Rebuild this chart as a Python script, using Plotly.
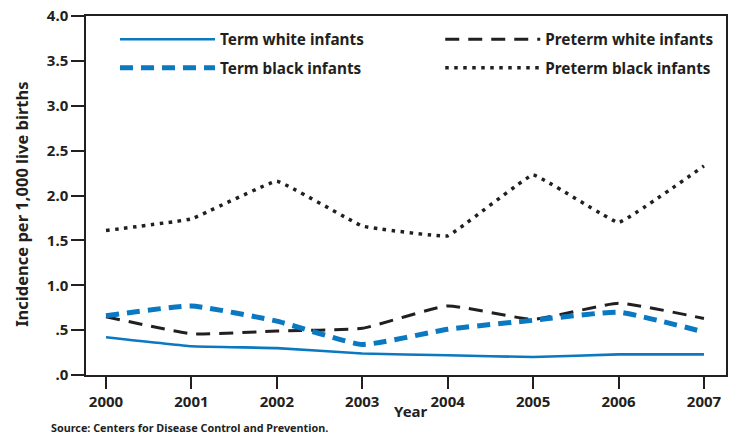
import plotly.graph_objects as go

years = [2000, 2001, 2002, 2003, 2004, 2005, 2006, 2007]
term_white = [0.42, 0.32, 0.30, 0.24, 0.22, 0.20, 0.23, 0.23]
preterm_white = [0.65, 0.46, 0.49, 0.52, 0.77, 0.62, 0.80, 0.63]
term_black = [0.66, 0.77, 0.60, 0.34, 0.51, 0.61, 0.70, 0.48]
preterm_black = [1.61, 1.74, 2.16, 1.66, 1.55, 2.23, 1.70, 2.33]

y_tickvals = [0, 0.5, 1.0, 1.5, 2.0, 2.5, 3.0, 3.5, 4.0]
y_ticktext = [".0", ".5", "1.0", "1.5", "2.0", "2.5", "3.0", "3.5", "4.0"]
x_ticktext = [str(y) for y in years]

BLUE = "#0b78c2"
DARK = "#231f20"
FONT = "Noto Sans"

fig = go.Figure()
fig.add_trace(go.Scatter(x=years, y=term_white, name="Term white infants", mode="lines", legend="legend",
                         line=dict(color=BLUE, width=2.6, shape="spline", smoothing=0.3)))
fig.add_trace(go.Scatter(x=years, y=preterm_white, name="Preterm white infants", mode="lines", legend="legend2",
                         line=dict(color=DARK, width=3, dash="14px,9px", shape="spline", smoothing=0.4)))
fig.add_trace(go.Scatter(x=years, y=term_black, name="Term black infants", mode="lines", legend="legend3",
                         line=dict(color=BLUE, width=5, dash="13px,8px", shape="spline", smoothing=0.4)))
fig.add_trace(go.Scatter(x=years, y=preterm_black, name="Preterm black infants", mode="lines", legend="legend4",
                         line=dict(color=DARK, width=3.5, dash="3.5px,5.5px", shape="spline", smoothing=0.2)))

def leg(x, y):
    return dict(orientation="v", x=x, y=y, xanchor="left", yanchor="middle", itemwidth=95,
                font=dict(family=FONT, size=15.3, color=DARK, weight="bold"),
                bgcolor="rgba(0,0,0,0)", borderwidth=0)

fig.update_layout(
    width=735, height=434,
    margin=dict(l=86, r=9, t=16, b=59, autoexpand=False),
    paper_bgcolor="white", plot_bgcolor="white",
    font=dict(family=FONT, color=DARK, size=13),
    showlegend=True,
    legend=leg(0.0453, 0.935),
    legend2=leg(0.5535, 0.935),
    legend3=leg(0.0453, 0.856),
    legend4=leg(0.5535, 0.856),
    xaxis=dict(range=[1999.766, 2007.258], tickvals=years, ticktext=x_ticktext,
               ticks="outside", ticklen=12, tickwidth=1.5, tickcolor=DARK,
               showline=True, linecolor=DARK, linewidth=1.5, mirror=True, automargin=False,
               showgrid=False, zeroline=False, ticklabeloverflow="allow",
               tickfont=dict(family=FONT, size=15, color=DARK, weight="bold")),
    yaxis=dict(range=[0, 4.001], tickvals=y_tickvals, ticktext=y_ticktext,
               ticks="outside", ticklen=13, tickwidth=1.5, tickcolor=DARK,
               showline=True, linecolor=DARK, linewidth=1.5, mirror=True, automargin=False,
               showgrid=False, zeroline=False, ticklabeloverflow="allow",
               tickfont=dict(family=FONT, size=15, color=DARK, weight="bold")),
    annotations=[
        dict(text="Incidence per 1,000 live births", textangle=-90, xref="paper", yref="paper",
             x=0, xshift=-64, y=0.474, xanchor="center", yanchor="middle", showarrow=False,
             font=dict(family=FONT, size=16.5, color=DARK, weight="bold")),
        dict(text="Year", xref="paper", yref="paper", x=0.508, y=0, yshift=-36,
             xanchor="center", yanchor="middle", showarrow=False,
             font=dict(family=FONT, size=15, color=DARK, weight="bold")),
        dict(text="Source: Centers for Disease Control and Prevention.", xref="paper", yref="paper",
             x=0, xshift=-37, y=0, yshift=-52, xanchor="left", yanchor="middle", showarrow=False,
             font=dict(family=FONT, size=10.8, color=DARK, weight="bold")),
    ],
)

fig.write_html("out.html", config={"displayModeBar": False},
               post_script="document.body.style.margin='0';document.body.style.padding='0';")
